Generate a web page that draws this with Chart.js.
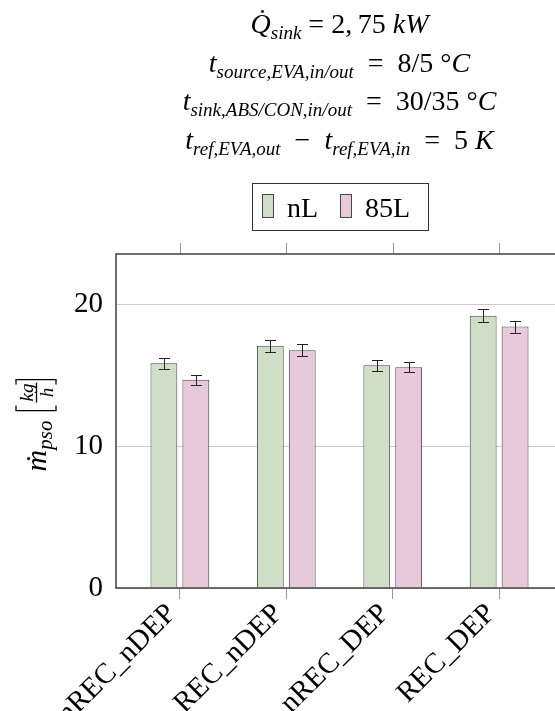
<!DOCTYPE html>
<html>
<head>
<meta charset="utf-8">
<script src="https://cdn.jsdelivr.net/npm/chart.js@4.4.1/dist/chart.umd.min.js"></script>
<style>
  html, body { margin: 0; padding: 0; background: #fff; overflow: hidden; }
  #contenedor { position: relative; width: 570px; height: 711px; }
</style>
</head>
<body>
<div id="contenedor"><canvas id="grafico"></canvas></div>
<script>
// Datos: flujo másico por configuración
const categorias = ['nREC_nDEP', 'REC_nDEP', 'nREC_DEP', 'REC_DEP'];
const valoresNL = [15.85, 17.08, 15.70, 19.20];
const erroresNL = [0.40, 0.42, 0.37, 0.45];
const valores85L = [14.68, 16.76, 15.57, 18.43];
const errores85L = [0.35, 0.41, 0.37, 0.42];
const ticksY = [0, 10, 20];
const Y_MAX = 23.55;
const X_PAD = 0.6; // margen a los lados de la primera y última categoría

const FUENTE = '"Liberation Serif", "Times New Roman", serif';
const VERDE = '#d0dec8';
const ROSA = '#e8c9d9';
const BORDE = '#474747';

// Líneas del encabezado (texto matemático)
const IGUAL = '\u2002=\u2002';
const encabezado = [
  [{ t: 'Q\u0307', i: 1 }, { t: 'sink', i: 1, sub: 1 }, { t: ' = 2,\u200975 ' }, { t: 'kW', i: 1 }],
  [{ t: 't', i: 1 }, { t: 'source,EVA,in/out', i: 1, sub: 1 }, { t: IGUAL + '8/5 °' }, { t: 'C', i: 1 }],
  [{ t: 't', i: 1 }, { t: 'sink,ABS/CON,in/out', i: 1, sub: 1 }, { t: IGUAL + '30/35 °' }, { t: 'C', i: 1 }],
  [{ t: 't', i: 1 }, { t: 'ref,EVA,out', i: 1, sub: 1 }, { t: '\u2002\u2212\u2002' }, { t: 't', i: 1 },
   { t: 'ref,EVA,in', i: 1, sub: 1 }, { t: IGUAL + '5 ' }, { t: 'K', i: 1 }]
];
const baselines = [33, 72, 110, 149];

function fuenteSeg(s, tam, tamSub) {
  return (s.i ? 'italic ' : '') + (s.sub ? tamSub : tam) + 'px ' + FUENTE;
}

function anchoRico(ctx, segs, tam, tamSub) {
  let w = 0;
  segs.forEach(s => { ctx.font = fuenteSeg(s, tam, tamSub); w += ctx.measureText(s.t).width; });
  return w;
}

function dibujarRico(ctx, segs, x, base, tam, tamSub, bajada) {
  segs.forEach(s => {
    ctx.font = fuenteSeg(s, tam, tamSub);
    ctx.fillText(s.t, x, base + (s.sub ? bajada : 0));
    x += ctx.measureText(s.t).width;
  });
  return x;
}

const textos = {
  id: 'textos',
  afterDraw(chart) {
    const { ctx, chartArea } = chart;
    const cx = (chartArea.left + chartArea.right) / 2;
    ctx.save();
    ctx.fillStyle = '#000';
    ctx.textBaseline = 'alphabetic';
    ctx.textAlign = 'left';
    encabezado.forEach((linea, k) => {
      const w = anchoRico(ctx, linea, 28, 19);
      dibujarRico(ctx, linea, cx - w / 2, baselines[k], 28, 19, 6);
    });

    // leyenda
    const lx = 252, ly = 183, lw = 176, lh = 47;
    ctx.strokeStyle = '#333';
    ctx.lineWidth = 1;
    ctx.strokeRect(lx + 0.5, ly + 0.5, lw, lh);
    const items = [
      { nombre: 'nL', color: VERDE, x: 262 },
      { nombre: '85L', color: ROSA, x: 340 }
    ];
    items.forEach(it => {
      ctx.fillStyle = it.color;
      ctx.fillRect(it.x + 0.5, 194.5, 11, 23);
      ctx.strokeStyle = BORDE;
      ctx.strokeRect(it.x + 0.5, 194.5, 11, 23);
      ctx.fillStyle = '#000';
      ctx.font = '28px ' + FUENTE;
      ctx.fillText(it.nombre, it.x + 25, 217);
    });

    // título del eje y
    ctx.save();
    ctx.translate(46, 423);
    ctx.rotate(-Math.PI / 2);
    const tit = [{ t: 'm\u0307', i: 1 }, { t: 'pso', i: 1, sub: 1 }];
    const wTit = anchoRico(ctx, tit, 30, 21);
    const wFrac = 20, gap = 10, wBr = 5;
    const total = wTit + gap + wBr * 2 + wFrac + 6;
    let x = -total / 2;
    x = dibujarRico(ctx, tit, x, 0, 30, 21, 6) + gap;
    // corchetes con la fracción kg/h
    ctx.strokeStyle = '#000';
    ctx.lineWidth = 1.3;
    const yA = -30, yB = 10;
    ctx.beginPath();
    ctx.moveTo(x + wBr, yA); ctx.lineTo(x, yA); ctx.lineTo(x, yB); ctx.lineTo(x + wBr, yB);
    ctx.stroke();
    x += wBr;
    ctx.font = 'italic 19px ' + FUENTE;
    ctx.textAlign = 'center';
    ctx.fillText('kg', x + 3 + wFrac / 2, -13);
    ctx.fillText('h', x + 3 + wFrac / 2, 7);
    ctx.beginPath();
    ctx.moveTo(x + 3, -9.5); ctx.lineTo(x + 3 + wFrac, -9.5);
    ctx.stroke();
    x += wFrac + 6;
    ctx.beginPath();
    ctx.moveTo(x - wBr, yA); ctx.lineTo(x, yA); ctx.lineTo(x, yB); ctx.lineTo(x - wBr, yB);
    ctx.stroke();
    ctx.restore();
    ctx.restore();
  }
};

// Marco superior/derecho y marcas de la parte superior
const marco = {
  id: 'marco',
  afterDatasetsDraw(chart) {
    const { ctx, chartArea: a, scales: { x } } = chart;
    ctx.save();
    ctx.strokeStyle = '#999';
    ctx.lineWidth = 1;
    categorias.forEach((c, i) => {
      const px = Math.round(x.getPixelForValue(i)) + 0.5;
      ctx.beginPath();
      ctx.moveTo(px, a.top - 11); ctx.lineTo(px, a.top);
      ctx.stroke();
    });
    ctx.strokeStyle = '#4a4a4a';
    ctx.lineWidth = 1.6;
    ctx.strokeRect(a.left, a.top, a.right - a.left, a.bottom - a.top);
    ctx.restore();
  }
};

// Barras de error
const barrasError = {
  id: 'barrasError',
  afterDatasetsDraw(chart) {
    const { ctx, scales: { y } } = chart;
    ctx.save();
    ctx.strokeStyle = '#222';
    ctx.lineWidth = 1;
    chart.data.datasets.forEach((ds, i) => {
      const meta = chart.getDatasetMeta(i);
      meta.data.forEach((bar, j) => {
        const v = ds.data[j], e = ds.errores[j];
        const y1 = Math.round(y.getPixelForValue(v + e)) + 0.5;
        const y2 = Math.round(y.getPixelForValue(v - e)) + 0.5;
        const px = Math.round(bar.x) + 0.5;
        ctx.beginPath();
        ctx.moveTo(px, y1); ctx.lineTo(px, y2);
        ctx.moveTo(px - 5.5, y1); ctx.lineTo(px + 5.5, y1);
        ctx.moveTo(px - 5.5, y2); ctx.lineTo(px + 5.5, y2);
        ctx.stroke();
      });
    });
    ctx.restore();
  }
};

const ctx = document.getElementById('grafico').getContext('2d');
const chart = new Chart(ctx, {
  type: 'bar',
  data: {
    labels: categorias,
    datasets: [
      {
        label: 'nL',
        data: valoresNL,
        errores: erroresNL,
        backgroundColor: VERDE,
        borderColor: BORDE,
        borderWidth: 1,
        categoryPercentage: 0.6,
        barPercentage: 0.84
      },
      {
        label: '85L',
        data: valores85L,
        errores: errores85L,
        backgroundColor: ROSA,
        borderColor: BORDE,
        borderWidth: 1,
        categoryPercentage: 0.6,
        barPercentage: 0.84
      }
    ]
  },
  options: {
    responsive: true,
    maintainAspectRatio: false,
    animation: false,
    layout: { padding: { top: 254, right: 7, left: 0, bottom: 0 } },
    plugins: {
      legend: { display: false },
      tooltip: { enabled: false }
    },
    scales: {
      x: {
        afterBuildTicks: s => {
          s._startValue = -X_PAD;
          s._valueRange = categorias.length - 1 + 2 * X_PAD;
        },
        afterFit: s => { s.height = 123; },
        grid: {
          offset: false,
          drawOnChartArea: false,
          tickLength: 11,
          color: '#999'
        },
        border: { display: false },
        ticks: {
          autoSkip: false,
          maxRotation: 45,
          minRotation: 45,
          padding: -2,
          labelOffset: -8,
          color: '#000',
          font: { family: FUENTE, size: 29 }
        }
      },
      y: {
        min: 0,
        max: Y_MAX,
        afterBuildTicks: s => { s.ticks = ticksY.map(v => ({ value: v })); },
        afterFit: s => { s.width = 116; },
        grid: { color: '#cccccc', drawTicks: false },
        border: { display: false },
        ticks: {
          padding: 13,
          color: '#000',
          font: { family: FUENTE, size: 29 }
        }
      }
    }
  },
  plugins: [barrasError, marco, textos]
});
</script>
</body>
</html>
